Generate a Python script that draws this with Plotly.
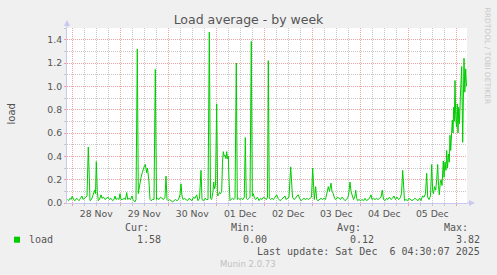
import plotly.graph_objects as go
import pandas as pd

# ---- data (hours after 28 Nov 2025 00:00, load values) ----
hours = [-2.5, -1.9, -1.15, -0.65, 0, 0.6, 1.35, 2.1, 2.85, 3.35, 4.1, 4.85, 5.35, 6.1, 6.7, 7.35, 8, 8.5, 8.85, 9.6,
         10.5, 11.2, 11.6, 12, 12.5, 13, 13.6, 14.35, 14.85, 15.6, 16.35, 17.1, 17.85, 18.6, 19.35, 20.1, 20.85, 21.35,
         21.85, 22.6, 23.35, 23.85, 24.35, 25.1, 25.85, 26.6, 27.2, 27.7, 28.35, 29.1, 29.85, 30.35, 30.85, 31.35,
         31.85, 32.5, 33, 33.35, 33.85, 34.35, 35, 35.6, 36.1, 36.5, 36.85, 37.2, 37.6, 38, 38.35, 38.85, 39.35, 40.1,
         40.85, 41.5, 42.1, 42.6, 43.35, 44.1, 44.85, 45.6, 46.35, 46.85, 47.35, 47.85, 48.6, 49.35, 50.1, 50.85,
         51.6, 52.35, 53.1, 53.85, 54.35, 54.85, 55.35, 56.1, 56.85, 57.6, 58.35, 59.1, 59.85, 60.6, 61.35, 62.2,
         62.85, 63.6, 64.35, 64.85, 65.6, 66.35, 67.1, 67.85, 68.5, 69.1, 69.7, 70.35, 70.7, 71.1, 71.6, 72.2, 72.7,
         73.1, 73.6, 74.1, 74.7, 75.1, 75.5, 76, 76.35, 76.85, 77.2, 77.6, 78, 78.35, 78.85, 79.35, 80.1, 80.85,
         81.35, 82, 82.5, 83.1, 83.85, 84.6, 85.35, 86, 86.5, 87, 87.6, 88.35, 88.85, 89.5, 90, 90.5, 91.1, 91.85,
         92.6, 93.35, 94.1, 94.85, 95.6, 96.35, 97.1, 97.6, 98, 98.5, 99.1, 99.85, 100.6, 101.35, 102.2, 102.85,
         103.85, 104.6, 105.35, 106.35, 106.85, 107.6, 108.35, 109.2, 109.7, 110.1, 110.85, 111.6, 112.35, 113,
         113.6, 114.35, 115.1, 115.85, 116.6, 117.35, 118.1, 118.85, 119.6, 120.2, 120.6, 121, 121.7, 122.2, 122.85,
         123.6, 124.35, 125.1, 125.85, 126.6, 127.35, 128, 128.6, 129.35, 129.85, 130.5, 131.1, 131.85, 132.6,
         133.35, 134.1, 134.85, 135.6, 136.35, 137.1, 137.85, 138.35, 138.85, 139.35, 139.85, 140.6, 141.35, 141.7,
         142.2, 142.7, 143.35, 144.1, 144.85, 145.6, 146.35, 147.1, 147.85, 148.6, 149.35, 149.85, 150.6, 151.35,
         152.1, 152.85, 153.6, 154.35, 155, 155.6, 156.35, 157.1, 157.85, 158.6, 159.35, 160.1, 160.85, 161.6,
         162.35, 163.1, 163.85, 164.6, 165.2, 165.7, 166.1, 166.85, 167.6, 168.35, 169.1, 169.85, 170.6, 171.35,
         172.1, 172.85, 173.6, 174.35, 175.1, 175.85, 176.6, 177.2, 177.7, 178.35, 179.1, 179.7, 180.2, 180.6,
         181.1, 181.7, 182.2, 182.7, 183.1, 183.5, 184, 184.35, 184.85, 185.5, 185.85, 186.35, 186.85, 187.2,
         187.6, 188.1, 188.5, 188.85, 189.2, 189.6, 190, 190.35, 190.7, 191, 191.35, 191.7, 192.1, 192.5, 192.85,
         193.2, 193.6, 194, 194.35, 194.7, 195.2, 195.5, 195.85, 196.25, 196.7, 197.1]
load = [0.03, 0.02, 0.04, 0.03, 0.06, 0.03, 0.02, 0.04, 0.03, 0.02, 0.04, 0.06, 0.03, 0.04, 0.05, 0.06, 0.48, 0.05, 0.02, 0.03,
        0.07, 0.11, 0.08, 0.355, 0.10, 0.02, 0.03, 0.07, 0.04, 0.05, 0.03, 0.04, 0.05, 0.03, 0.04, 0.02, 0.03, 0.06,
        0.03, 0.04, 0.03, 0.08, 0.03, 0.03, 0.04, 0.03, 0.09, 0.03, 0.04, 0.03, 0.06, 0.03, 0.02, 0.01,
        0.03, 1.32, 0.08, 0.12, 0.17, 0.22, 0.26, 0.30, 0.32, 0.33, 0.28, 0.26, 0.30, 0.25, 0.18, 0.03, 0.02, 0.03,
        0.03, 1.145, 0.03, 0.04, 0.03, 0.05, 0.04, 0.03, 0.05, 0.23, 0.03, 0.02, 0.03, 0.02, 0.01, 0.02,
        0.03, 0.02, 0.03, 0.07, 0.165, 0.06, 0.03, 0.04, 0.03, 0.02, 0.04, 0.03, 0.02, 0.05, 0.04, 0.07,
        0.02, 0.04, 0.28, 0.03, 0.02, 0.04, 0.03, 0.03, 1.465, 0.04, 0.03, 0.10, 0.18, 0.12, 0.15, 0.85, 0.06,
        0.07, 0.09, 0.08, 0.10, 0.35, 0.44, 0.40, 0.41, 0.38, 0.44, 0.38, 0.40, 0.20, 0.02, 0.03, 0.04, 0.03,
        0.04, 1.20, 0.03, 0.04, 0.03, 0.04, 0.03, 0.05, 0.56, 0.04, 0.03, 0.04, 0.05, 1.385, 0.06, 0.08, 0.04, 0.03,
        0.05, 0.02, 0.04, 0.03, 0.05, 0.04, 0.03, 0.05, 1.22, 0.04, 0.03, 0.04, 0.03, 0.05, 0.07, 0.04,
        0.02, 0.03, 0.04, 0.06, 0.03, 0.04, 0.05, 0.31, 0.15, 0.05, 0.03, 0.04, 0.06, 0.07,
        0.04, 0.02, 0.03, 0.04, 0.03, 0.04, 0.03, 0.04, 0.05, 0.30, 0.15, 0.03, 0.14, 0.03, 0.02,
        0.03, 0.04, 0.03, 0.04, 0.03, 0.08, 0.14, 0.10, 0.17, 0.10, 0.08, 0.04, 0.03, 0.05,
        0.04, 0.03, 0.05, 0.03, 0.02, 0.03, 0.05, 0.10, 0.18, 0.10, 0.07, 0.03, 0.06, 0.11,
        0.04, 0.02, 0.03, 0.02, 0.03, 0.02, 0.04, 0.02, 0.03, 0.04, 0.07, 0.03, 0.04, 0.03,
        0.04, 0.03, 0.04, 0.05, 0.11, 0.03, 0.02, 0.04, 0.03, 0.05, 0.03, 0.04, 0.06, 0.03,
        0.05, 0.03, 0.04, 0.08, 0.28, 0.05, 0.02, 0.03, 0.02, 0.04, 0.03, 0.02, 0.03, 0.04,
        0.03, 0.02, 0.04, 0.02, 0.06, 0.05, 0.08, 0.255, 0.05, 0.03, 0.06, 0.33, 0.10, 0.08,
        0.14, 0.11, 0.20, 0.33, 0.15, 0.07, 0.18, 0.20, 0.15, 0.36, 0.22, 0.35, 0.28, 0.45,
        0.30, 0.42, 0.35, 0.58, 0.45, 0.62, 0.71, 0.60, 0.82, 0.70, 1.05, 0.75, 0.65, 0.85, 0.60,
        0.82, 0.68, 0.90, 1.00, 1.17, 0.52, 0.95, 1.24, 0.95, 1.15, 1.00]

title_text = "Load average - by week"
y_label = "load"
series_name = "load"
stat_labels = ["Cur:", "Min:", "Avg:", "Max:"]
stat_values = ["1.58", "0.00", "0.12", "3.82"]
last_update = "Last update: Sat Dec\u00a0\u00a06 04:30:07 2025"
footer = "Munin 2.0.73"
side_text = "RRDTOOL / TOBI OETIKER"

base = pd.Timestamp("2025-11-28 00:00")
times = base + pd.to_timedelta(hours, unit="h")

# ---- layout geometry (pixels) ----
W, H = 497, 275
L, R, T, B = 67, 30, 28, 72
PW, PH = W - L - R, H - T - B


def px(x):
    return (x - L) / PW


def py(y):
    return (H - B - y) / PH


GREEN = "#00CC00"
TXT = "#555555"
MAJ = "#f0a0a0"
MIN = "#c8c8c8"
AX = "#c8c8f0"
DASH = "1px,1px"

fig = go.Figure()
fig.add_trace(go.Scatter(x=times, y=load, mode="lines",
                         line=dict(color=GREEN, width=1), showlegend=False))

font = "DejaVu Sans"
mono = "DejaVu Sans Mono"

fig.update_layout(
    width=W, height=H,
    margin=dict(l=L, r=R, t=T, b=B),
    paper_bgcolor="#F0F0F0", plot_bgcolor="white",
    showlegend=False,
    title=dict(text=title_text, x=0.5, xanchor="center", y=1 - 19.5 / H, yanchor="middle",
               font=dict(family=font, size=12.5, color=TXT)),
)

fig.update_xaxes(
    type="date",
    range=[base + pd.Timedelta(hours=-2.65), base + pd.Timedelta(hours=197.35)],
    tick0=base, dtick=86400000, ticklabelmode="period", tickformat="%d %b",
    showgrid=True, gridcolor=MAJ, griddash=DASH, gridwidth=1,
    ticks="outside", ticklen=2, tickcolor=MAJ,
    minor=dict(dtick=6 * 3600000, tick0=base, showgrid=True, gridcolor=MIN, griddash=DASH,
               ticks="outside", ticklen=2, tickcolor=MIN),
    showline=True, linecolor=AX, linewidth=1,
    tickfont=dict(family=font, size=9.3, color=TXT),
    zeroline=False, fixedrange=True,
)
fig.update_yaxes(
    range=[0, 1.5], dtick=0.2, tick0=0, tickformat=".1f",
    showgrid=True, gridcolor=MAJ, griddash=DASH, gridwidth=1,
    ticks="outside", ticklen=2, tickcolor=MAJ,
    minor=dict(dtick=0.1, showgrid=True, gridcolor=MIN, griddash=DASH,
               ticks="outside", ticklen=2, tickcolor=MIN),
    showline=True, linecolor=AX, linewidth=1,
    tickfont=dict(family=font, size=9.3, color=TXT),
    zeroline=False, fixedrange=True,
)

ann = []
# y-axis title
ann.append(dict(text=y_label, x=px(10.5), y=py(114), xref="paper", yref="paper",
                textangle=-90, showarrow=False, xanchor="center", yanchor="middle",
                font=dict(family=font, size=10, color=TXT)))
# legend header
for lab, xr in zip(stat_labels, [150.7, 257.3, 363.3, 470]):
    ann.append(dict(text=lab, x=px(xr), y=py(227.7), xref="paper", yref="paper", showarrow=False,
                    xanchor="right", yanchor="middle", font=dict(family=mono, size=10, color=TXT)))
ann.append(dict(text=series_name, x=px(26.7), y=py(239.7), xref="paper", yref="paper", showarrow=False,
                xanchor="left", yanchor="middle", font=dict(family=mono, size=10, color=TXT)))
for val, xr in zip(stat_values, [162.7, 269.3, 375.7, 482.3]):
    ann.append(dict(text=val, x=px(xr), y=py(239.7), xref="paper", yref="paper", showarrow=False,
                    xanchor="right", yanchor="middle", font=dict(family=mono, size=10, color=TXT)))
ann.append(dict(text=last_update, x=px(482.3), y=py(251.7), xref="paper", yref="paper", showarrow=False,
                xanchor="right", yanchor="middle", font=dict(family=mono, size=10, color=TXT)))
ann.append(dict(text=footer, x=px(248), y=py(264), xref="paper", yref="paper", showarrow=False,
                xanchor="center", yanchor="middle", font=dict(family=font, size=8.5, color="#c0c0c0")))
ann.append(dict(text=side_text, x=px(487), y=py(5), xref="paper", yref="paper", showarrow=False,
                textangle=90, xanchor="center", yanchor="top", font=dict(family=font, size=7.5, color="#c8c8c8")))
fig.update_layout(annotations=ann)

shapes = []
# legend colour box
shapes.append(dict(type="rect", xref="paper", yref="paper", x0=px(14), x1=px(20), y0=py(242.7), y1=py(236.7),
                   fillcolor=GREEN, line=dict(width=0)))
# axis extensions + arrowheads
shapes.append(dict(type="line", xref="paper", yref="paper", x0=1, x1=px(470), y0=0, y1=0,
                   line=dict(color=AX, width=1)))
shapes.append(dict(type="path", xref="paper", yref="paper",
                   path=f"M {px(469)},{py(200)} L {px(475)},{py(203)} L {px(469)},{py(206)} Z",
                   fillcolor=AX, line=dict(width=0)))
shapes.append(dict(type="line", xref="paper", yref="paper", x0=0, x1=0, y0=1, y1=py(24),
                   line=dict(color=AX, width=1)))
shapes.append(dict(type="path", xref="paper", yref="paper",
                   path=f"M {px(64)},{py(26)} L {px(67)},{py(20)} L {px(70)},{py(26)} Z",
                   fillcolor=AX, line=dict(width=0)))
fig.update_layout(shapes=shapes)

fig.write_html("out.html")
